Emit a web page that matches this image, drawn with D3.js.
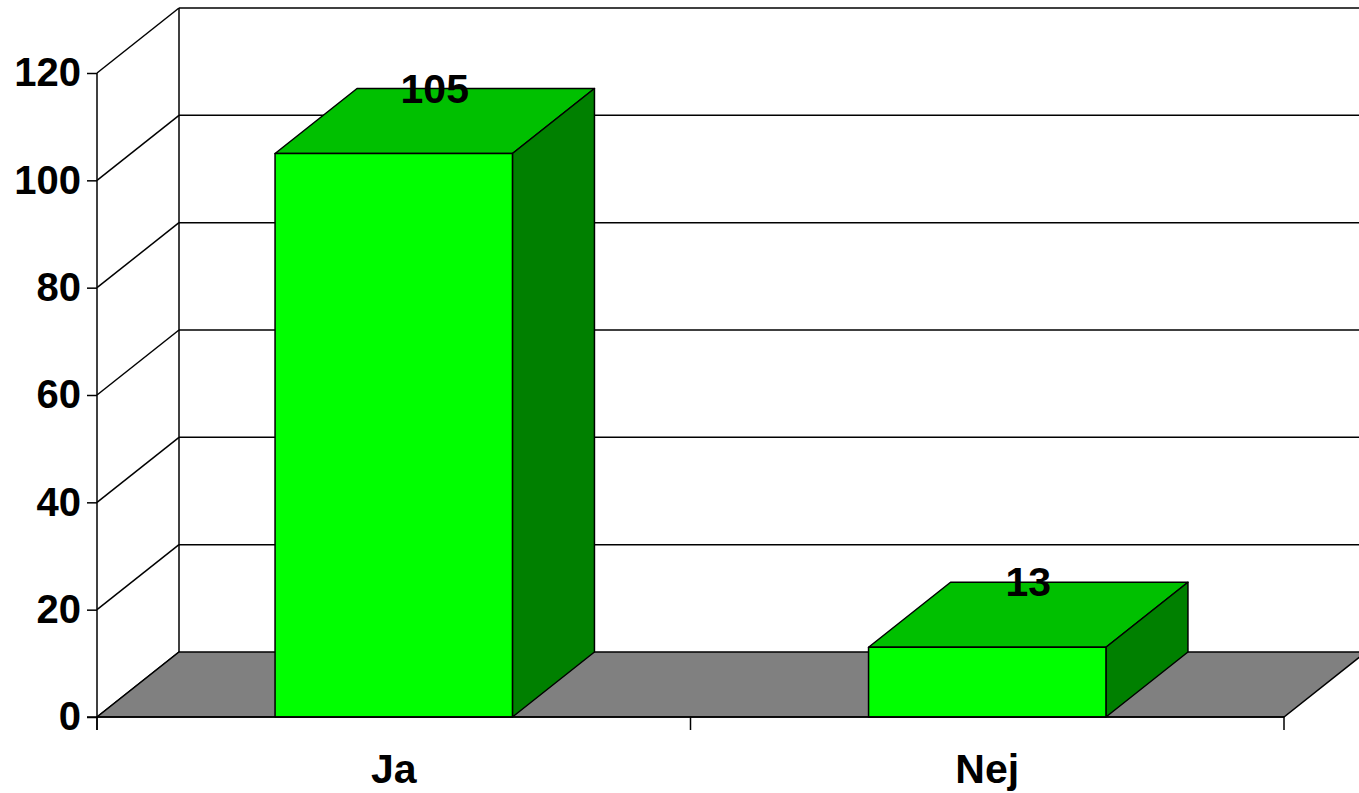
<!DOCTYPE html>
<html>
<head>
<meta charset="utf-8">
<script src="https://cdn.jsdelivr.net/npm/d3@7"></script>
<style>
  body { margin: 0; background: #fff; }
  text { font-family: "Liberation Sans", Arial, sans-serif; font-weight: bold; fill: #000; }
</style>
</head>
<body>
<div class="chart"></div>
<script>
const categories = ["Ja", "Nej"];
const values = [105, 13];
const yTicks = [0, 20, 40, 60, 80, 100, 120];

const w = 1359, h = 793;
const x0 = 97, x1 = 1284;     // front plane x range
const yBase = 717, yTop = 73; // front plane y range
const depth = { dx: 82, dy: -65 };

const svg = d3.select('.chart')
    .append('svg')
    .attr('width', w)
    .attr('height', h);

const xScale = d3.scaleBand()
    .domain(categories)
    .range([x0, x1]);

const yScale = d3.scaleLinear()
    .domain([0, 120])
    .range([yBase, yTop]);

const barW = xScale.bandwidth() * 0.4;

// back wall + gridlines
const grid = svg.append('g').attr('stroke', '#000').attr('stroke-width', 1.5).attr('fill', 'none');
yTicks.forEach(t => {
    const y = yScale(t);
    grid.append('line')
        .attr('x1', x0).attr('y1', y)
        .attr('x2', x0 + depth.dx).attr('y2', y + depth.dy);
    if (t > 0) {
        grid.append('line')
            .attr('x1', x0 + depth.dx).attr('y1', y + depth.dy)
            .attr('x2', w + 10).attr('y2', y + depth.dy);
    }
});
grid.append('line')
    .attr('x1', x0 + depth.dx).attr('y1', yScale(120) + depth.dy)
    .attr('x2', x0 + depth.dx).attr('y2', yScale(0) + depth.dy);

// floor
svg.append('polygon')
    .attr('points', [
        [x0, yBase], [x1, yBase],
        [x1 + depth.dx, yBase + depth.dy], [x0 + depth.dx, yBase + depth.dy]
    ].map(p => p.join(',')).join(' '))
    .attr('fill', '#808080')
    .attr('stroke', '#000')
    .attr('stroke-width', 1.5);

// bars
const bars = svg.selectAll('.bar')
    .data(categories.map((c, i) => ({ cat: c, val: values[i] })))
    .enter().append('g')
    .attr('class', 'bar')
    .attr('stroke', '#000')
    .attr('stroke-width', 1.5)
    .attr('stroke-linejoin', 'round');

const pts = arr => arr.map(p => p.join(',')).join(' ');

bars.each(function (d) {
    const g = d3.select(this);
    const xl = xScale(d.cat) + (xScale.bandwidth() - barW) / 2;
    const xr = xl + barW;
    const yt = yScale(d.val);
    const dx = depth.dx, dy = depth.dy;
    // top
    g.append('polygon')
        .attr('points', pts([[xl, yt], [xr, yt], [xr + dx, yt + dy], [xl + dx, yt + dy]]))
        .attr('fill', '#00c000');
    // side
    g.append('polygon')
        .attr('points', pts([[xr, yt], [xr + dx, yt + dy], [xr + dx, yBase + dy], [xr, yBase]]))
        .attr('fill', '#008000');
    // front
    g.append('rect')
        .attr('x', xl).attr('y', yt)
        .attr('width', barW).attr('height', yBase - yt)
        .attr('fill', '#00ff00');
    // value label
    g.append('text')
        .attr('x', xl + barW / 2 + dx / 2)
        .attr('y', yt + dy + 14)
        .attr('text-anchor', 'middle')
        .attr('stroke', 'none')
        .style('font-size', '41px')
        .text(d.val);
});

// y axis
const yAxis = d3.axisLeft(yScale)
    .tickValues(yTicks)
    .tickSize(10)
    .tickPadding(6);

const yg = svg.append('g')
    .attr('transform', `translate(${x0}, 0)`)
    .call(yAxis);
yg.select('.domain').remove();
yg.selectAll('.tick line').attr('stroke', '#000').attr('stroke-width', 1.5);
yg.selectAll('.tick text').style('font-size', '40px').attr('font-family', null);
yg.append('line')
    .attr('x1', 0).attr('x2', 0)
    .attr('y1', yTop).attr('y2', yBase + 13)
    .attr('stroke', '#000').attr('stroke-width', 1.5);

// x axis
const xg = svg.append('g');
xg.append('line')
    .attr('x1', x0 - 10).attr('x2', x1)
    .attr('y1', yBase).attr('y2', yBase)
    .attr('stroke', '#000').attr('stroke-width', 1.5);
const xTickPos = [x0].concat(categories.map(c => xScale(c) + xScale.bandwidth()));
xg.selectAll('.xtick')
    .data(xTickPos)
    .enter().append('line')
    .attr('x1', d => d).attr('x2', d => d)
    .attr('y1', yBase).attr('y2', yBase + 13)
    .attr('stroke', '#000').attr('stroke-width', 1.5);
xg.selectAll('.xlabel')
    .data(categories)
    .enter().append('text')
    .attr('x', d => xScale(d) + xScale.bandwidth() / 2)
    .attr('y', 783)
    .attr('text-anchor', 'middle')
    .style('font-size', '41px')
    .text(d => d);
</script>
</body>
</html>
